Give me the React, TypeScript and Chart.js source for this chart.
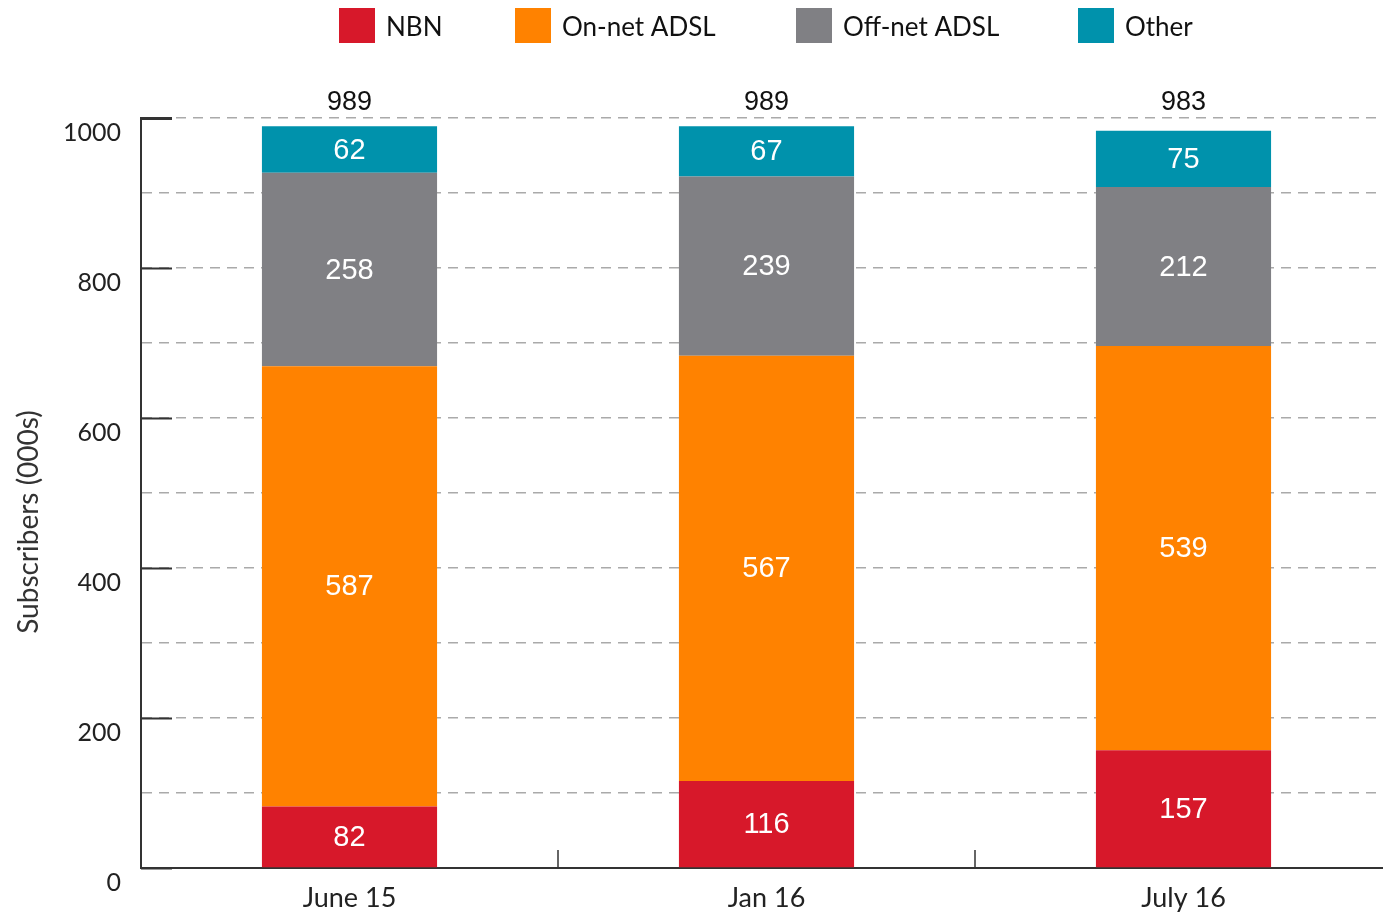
import React, { useEffect, useRef } from "react";
import { Chart, registerables } from "chart.js";

Chart.register(...registerables);

const categories = ["June 15", "Jan 16", "July 16"];
const nbn = [82, 116, 157];
const onNetAdsl = [587, 567, 539];
const offNetAdsl = [258, 239, 212];
const other = [62, 67, 75];
const totals = [989, 989, 983];
const seriesNames = ["NBN", "On-net ADSL", "Off-net ADSL", "Other"];
const seriesColors = ["#D7182A", "#FF8200", "#808084", "#0092AC"];
const yTitle = "Subscribers (000s)";

const AXIS_FONT = "Lato, 'Open Sans', sans-serif";
const NUM_FONT = "'Liberation Sans', Arial, sans-serif";

const overlayPlugin = {
  id: "overlay",
  afterDatasetsDraw(chart: any) {
    const ctx = chart.ctx;
    const area = chart.chartArea;
    const y = chart.scales.y;
    const x = chart.scales.x;
    ctx.save();
    // major tick segments
    ctx.strokeStyle = "#333";
    for (let v = 0; v <= 1000; v += 200) {
      const py = Math.round(y.getPixelForValue(v)) + 0.5;
      ctx.lineWidth = v === 1000 ? 3 : 2;
      ctx.beginPath();
      ctx.moveTo(area.left, py);
      ctx.lineTo(area.left + 31, py);
      ctx.stroke();
    }
    // x category boundary ticks
    ctx.lineWidth = 1.5;
    for (let i = 1; i < categories.length; i++) {
      const px = (x.getPixelForValue(i - 1) + x.getPixelForValue(i)) / 2;
      ctx.beginPath();
      ctx.moveTo(px, area.bottom);
      ctx.lineTo(px, area.bottom - 18);
      ctx.stroke();
    }
    // value labels inside segments
    ctx.textAlign = "center";
    ctx.textBaseline = "middle";
    ctx.fillStyle = "#ffffff";
    ctx.font = `29px ${NUM_FONT}`;
    chart.data.datasets.forEach((ds: any, di: number) => {
      const meta = chart.getDatasetMeta(di);
      meta.data.forEach((bar: any, i: number) => {
        const cy = (bar.y + bar.base) / 2;
        ctx.fillText(String(ds.data[i]), bar.x, cy + 1);
      });
    });
    // totals
    ctx.fillStyle = "#111";
    ctx.font = `27px ${NUM_FONT}`;
    totals.forEach((t, i) => {
      const px = x.getPixelForValue(i);
      ctx.fillText(String(t), px, 103);
    });
    // legend
    const legendX = [339, 515, 796, 1078];
    ctx.textAlign = "left";
    ctx.font = `26px ${AXIS_FONT}`;
    seriesNames.forEach((n, i) => {
      ctx.fillStyle = seriesColors[i];
      ctx.fillRect(legendX[i], 8, 36, 35);
      ctx.fillStyle = "#111";
      ctx.fillText(n, legendX[i] + 47, 28);
    });
    // y title
    ctx.translate(29, 522);
    ctx.rotate(-Math.PI / 2);
    ctx.textAlign = "center";
    ctx.fillStyle = "#333";
    ctx.font = `28px ${AXIS_FONT}`;
    ctx.fillText(yTitle, 0, 0);
    ctx.restore();
  },
};

export default function App() {
  const ref = useRef<HTMLCanvasElement | null>(null);
  useEffect(() => {
    if (!ref.current) return;
    const datasets = [nbn, onNetAdsl, offNetAdsl, other].map((d, i) => ({
      label: seriesNames[i],
      data: d,
      backgroundColor: seriesColors[i],
      borderWidth: 0,
      categoryPercentage: 1,
      barPercentage: 0.42,
    }));
    const chart = new Chart(ref.current, {
      type: "bar",
      data: { labels: categories, datasets },
      options: {
        animation: false,
        responsive: false,
        maintainAspectRatio: false,
        layout: { padding: { top: 118, right: 0, left: 0, bottom: 0 } },
        plugins: {
          legend: { display: false },
          tooltip: { enabled: false },
        },
        scales: {
          x: {
            stacked: true,
            grid: { display: false, drawTicks: false },
            border: { display: true, color: "#333", width: 2 },
            ticks: {
              color: "#222",
              font: { family: AXIS_FONT, size: 27 },
              padding: 14,
            },
            afterFit: (s: any) => {
              s.height = 46;
              // the plot's last category runs a little past the right edge of the page
              const w = s.right - s.left;
              if (w > 0) s._valueRange = (3 * w) / (w + 9);
            },
          },
          y: {
            stacked: true,
            min: 0,
            max: 1000,
            grid: {
              color: "#aaaaaa",
              lineWidth: 1.5,
              drawTicks: false,
            },
            border: { display: true, color: "#333", width: 2, dash: [10, 7] },
            ticks: {
              stepSize: 100,
              color: "#222",
              padding: 20,
              labelOffset: 15,
              font: { family: AXIS_FONT, size: 25 },
              callback: (v: any) => (Number(v) % 200 === 0 ? String(v) : ""),
            },
            afterFit: (s: any) => {
              s.width = 141;
            },
          },
        },
      },
      plugins: [overlayPlugin],
    });
    return () => chart.destroy();
  }, []);
  return (
    <div style={{ position: "fixed", left: 0, top: 0, width: 1383, height: 914, background: "#fff" }}>
      <canvas ref={ref} width={1383} height={914} style={{ width: 1383, height: 914, display: "block" }} />
    </div>
  );
}
